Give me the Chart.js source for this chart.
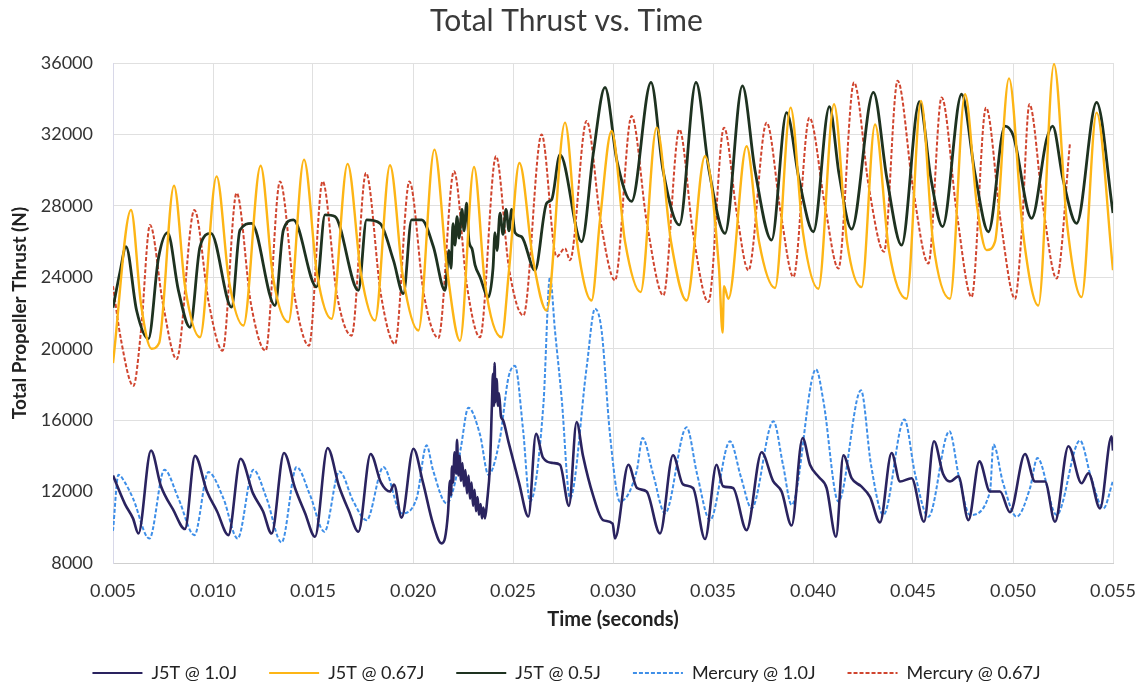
<!DOCTYPE html>
<html>
<head>
<meta charset="utf-8">
<script src="https://cdn.jsdelivr.net/npm/chart.js@4/dist/chart.umd.min.js"></script>
<style>
  html, body { margin: 0; padding: 0; background: #fff; }
  #wrap { width: 1143px; height: 692px; }
</style>
</head>
<body>
<div id="wrap"><canvas id="chart" width="1143" height="692"></canvas></div>
<script>
// time in milliseconds (converted to seconds below), thrust in N
const j5t10Time = [5.0,5.6,6.0,6.27,6.9,7.4,8.0,8.6,9.1,9.7,10.2,10.77,11.38,12.0,12.5,12.93,13.55,14.1,14.6,15.1,15.73,16.3,16.8,17.27,17.88,18.4,18.85,19.05,19.43,20.02,20.5,21.0,21.43,21.6,21.75,21.85,21.9,21.95,22.0,22.08,22.15,22.2,22.27,22.33,22.4,22.47,22.55,22.62,22.7,22.78,22.85,22.93,23.0,23.08,23.15,23.23,23.3,23.38,23.45,23.52,23.6,23.7,23.85,23.95,24.0,24.05,24.08,24.12,24.18,24.25,24.3,24.4,24.5,24.77,25.3,25.77,26.15,26.5,27.0,27.35,27.8,28.18,28.5,29.0,29.5,29.98,30.1,30.77,31.2,31.68,32.35,33.0,33.5,34.0,34.6,35.18,35.5,36.0,36.68,37.43,38.0,38.43,38.93,39.48,39.85,40.3,40.68,41.15,41.52,41.93,42.4,42.85,43.35,43.93,44.35,44.93,45.55,46.05,46.5,46.85,47.27,47.77,48.32,48.85,49.35,49.85,50.6,51.1,51.6,52.1,52.77,53.43,53.77,54.35,54.93,55.0];
const j5t10Thrust = [12900,11300,10500,9650,14300,12300,11000,9900,14000,12000,10900,9560,13840,11900,10900,9650,14160,12200,10800,9470,14440,12300,10900,9750,14100,12500,12000,12400,10540,14400,12500,10200,9100,9400,10800,12600,11800,13400,12500,14200,13000,14900,12900,14000,12600,13600,12300,13200,11900,12900,11600,12500,11200,12100,10900,11700,10700,11300,10500,11100,10500,11400,13500,17000,18600,16800,19200,17000,18300,16800,17500,16200,16000,14800,12500,10600,15240,13900,13600,13500,11200,15900,14000,11800,10400,10200,9380,13500,12200,12000,9650,14030,12400,12200,9340,13500,12300,12200,9840,14200,12600,12000,10100,15000,13500,12800,12200,9470,14030,12750,12300,11700,10270,14160,12560,12750,10310,14820,13000,12560,12850,10400,13690,12000,12000,10840,14100,12560,12560,10310,14540,12470,13030,11060,15100,14300];

const j5t067Time = [5.0,5.9,6.4,6.93,7.3,8.05,8.6,9.35,10.18,10.8,11.52,12.38,13.0,13.77,14.55,15.2,15.93,16.73,17.4,18.1,18.85,19.5,20.27,21.07,21.7,22.35,23.05,23.6,24.43,24.8,25.32,26.0,26.68,27.6,28.2,28.93,29.35,29.93,30.6,31.38,32.18,32.9,33.68,34.6,35.3,35.48,35.55,35.77,36.68,37.3,38.1,38.88,39.5,40.27,41.05,41.7,42.43,43.1,43.8,44.68,45.4,46.0,46.85,47.6,48.2,48.68,49.1,49.8,50.5,51.27,52.05,52.7,53.43,54.18,55.0];
const j5t067Thrust = [19200,27770,22500,20000,20300,29130,23500,20640,29650,23800,21300,30250,24000,21490,30590,24200,21670,30350,24200,21580,30270,24000,21020,31150,24500,20450,30180,23640,20640,24390,30400,25000,22140,32660,26000,22700,27210,32190,26000,23170,32380,26000,22700,30780,24500,20900,23500,22800,31340,26000,23400,33500,26500,23360,33690,26000,23450,32560,25500,22800,33880,26000,22800,34250,28000,25520,26000,35140,26500,22420,35940,27000,22890,33220,24400];

const j5t05Time = [5.0,5.35,5.65,6.18,6.77,7.27,7.73,8.27,8.85,9.35,9.9,10.93,11.35,11.93,13.1,13.52,14.02,15.18,15.6,16.1,17.27,17.68,18.35,19.02,19.52,19.93,20.43,21.02,21.6,21.8,21.9,22.0,22.1,22.2,22.3,22.45,22.55,22.68,22.8,22.95,23.1,23.35,23.77,24.0,24.1,24.2,24.35,24.5,24.65,24.8,24.93,25.1,25.43,26.1,26.68,26.93,27.35,28.43,29.02,29.6,30.2,30.93,31.9,32.5,33.32,34.15,34.8,35.6,36.47,37.1,37.93,38.68,39.3,40.02,40.82,41.3,41.93,43.02,43.7,44.43,45.32,45.9,46.48,47.43,48.1,48.77,49.6,50.02,50.93,51.68,51.98,52.5,53.18,54.18,55.0];
const j5t05Thrust = [22300,24300,25710,22140,20550,25050,26500,23270,21200,25710,26460,22330,26650,27020,22420,26650,27210,23460,27490,27400,23270,27210,27020,24960,23080,27210,27210,25710,23270,25500,24500,27000,25800,27400,26200,27800,26600,28150,26000,25600,24700,24020,22890,24500,26500,25500,27590,26400,27800,26600,27800,26500,26270,24390,28150,28340,30870,25990,30970,34630,30500,28250,34910,30000,26930,34910,30000,26460,34720,30000,26080,33220,29500,26550,33560,29800,26700,34350,29500,25800,33830,29500,26840,34250,29800,26550,32470,31910,27300,31720,32470,29500,27020,33790,27600];

const merc10Time = [5.0,5.27,5.6,6.0,6.82,7.57,8.27,9.07,9.77,10.52,11.23,12.02,12.68,13.43,14.18,14.85,15.57,16.32,17.02,17.68,18.52,19.43,20.18,20.68,21.0,21.68,22.1,22.4,22.77,23.35,23.77,24.35,24.77,25.1,25.5,25.85,26.52,26.85,27.1,27.43,27.85,28.68,29.1,29.43,29.85,30.35,31.18,31.48,32.0,32.6,33.68,34.2,34.85,35.85,36.4,36.93,38.02,38.5,38.93,40.15,40.52,41.27,42.4,42.9,43.52,44.57,45.1,45.77,46.82,47.3,47.85,48.85,49.02,49.5,50.18,50.85,51.22,52.18,53.35,53.9,54.52,55.0];
const merc10Thrust = [9800,12940,12500,11620,9370,13220,11620,9560,13090,11620,9370,13220,11620,9150,13370,11810,9750,13130,11440,10400,13370,10780,11620,14590,13200,11340,12500,14500,16700,15190,12940,15000,18380,19040,15500,11440,16880,24020,21000,17260,11620,18940,22240,21010,15190,11440,13130,15000,13000,10780,15600,13000,10400,14820,12800,11060,15940,13500,11250,18850,17070,11440,17670,13500,10690,16040,13000,10590,15380,12800,10690,12000,14630,12500,10590,12190,13880,10690,14860,12800,11060,12600];

const merc067Time = [5.0,5.4,6.02,6.4,6.85,7.5,8.18,9.07,9.8,10.48,11.18,11.9,12.63,13.35,14.1,14.8,15.48,16.2,16.93,17.65,18.4,19.1,19.82,20.55,21.27,22.05,22.7,23.35,24.15,24.8,25.52,26.43,27.18,27.6,27.85,28.68,29.4,30.1,30.93,31.7,32.52,33.32,34.0,34.77,35.55,36.2,36.77,37.68,38.4,39.02,39.82,40.6,41.27,42.05,42.8,43.55,44.23,45.0,45.77,46.43,47.2,47.93,48.65,49.4,50.1,50.43,50.82,51.5,52.18,52.85];
const merc067Thrust = [23500,20500,17920,21000,26930,22500,19420,27770,22500,19890,28720,22500,19890,29370,22800,20170,29370,23000,20730,29840,23000,20260,29370,23000,20600,29940,23500,20640,30780,24500,21860,32000,25150,25620,24960,32750,27000,23830,33030,27000,22990,32280,26500,22610,32380,27500,24390,32660,27500,24020,32940,28000,24490,34910,29000,25430,35010,29000,24770,34070,27500,22890,33500,27000,22800,26460,33690,28000,23930,31530];

const seriesNames = ['J5T @ 1.0J', 'J5T @ 0.67J', 'J5T @ 0.5J', 'Mercury @ 1.0J', 'Mercury @ 0.67J'];
const seriesColors = ['#2a235f', '#fdb515', '#1e3220', '#3f8fe8', '#d0452f'];
const seriesWidths = [2.6, 2.4, 2.8, 2, 2];

const toPoints = (times, vals) => times.map((t, i) => ({x: t / 1000, y: vals[i]}));

const seriesData = [
  toPoints(j5t10Time, j5t10Thrust),
  toPoints(j5t067Time, j5t067Thrust),
  toPoints(j5t05Time, j5t05Thrust),
  toPoints(merc10Time, merc10Thrust),
  toPoints(merc067Time, merc067Thrust)
];

const datasets = seriesData.map((pts, i) => {
  const dashed = i >= 3;
  return {
    label: seriesNames[i],
    data: pts,
    borderColor: seriesColors[i],
    backgroundColor: seriesColors[i],
    borderWidth: seriesWidths[i],
    borderDash: dashed ? [4, 2] : [],
    pointRadius: 0,
    cubicInterpolationMode: 'monotone',
    fill: false
  };
});

const ctx = document.getElementById('chart').getContext('2d');
new Chart(ctx, {
  type: 'line',
  data: { datasets: datasets },
  options: {
    responsive: false,
    animation: false,
    layout: { padding: { top: 0, right: 30, bottom: 0, left: 20 } },
    plugins: {
      title: {
        display: true,
        text: 'Total Thrust vs. Time',
        color: '#3a3a3a',
        font: { family: 'Lato', size: 30, weight: 'normal' },
        padding: { top: 3, bottom: 24 }
      },
      legend: {
        position: 'bottom',
        labels: {
          color: '#222',
          font: { family: 'Lato', size: 18 },
          usePointStyle: true,
          pointStyleWidth: 50,
          boxHeight: 2,
          padding: 32,
          generateLabels: (chart) => chart.data.datasets.map((ds, i) => ({
            text: ds.label,
            fillStyle: ds.borderColor,
            strokeStyle: ds.borderColor,
            lineWidth: 2,
            lineDash: ds.borderDash,
            pointStyle: 'line',
            fontColor: '#222',
            hidden: false,
            datasetIndex: i
          }))
        }
      },
      tooltip: { enabled: false }
    },
    scales: {
      x: {
        type: 'linear',
        min: 0.005,
        max: 0.055,
        ticks: {
          stepSize: 0.005,
          padding: 17,
          color: '#333',
          font: { family: 'Lato', size: 18 },
          callback: (v) => v.toFixed(3)
        },
        grid: { color: '#e0e0e0', drawTicks: false },
        border: { color: '#cfcfcf' },
        title: {
          display: true,
          text: 'Time (seconds)',
          color: '#222',
          font: { family: 'Lato', size: 20, weight: 'bold' },
          padding: { top: 8, bottom: 0 }
        },
        afterFit: (scale) => {
          scale.height = 69;
          scale.paddingRight = 0;
        }
      },
      y: {
        min: 8000,
        max: 36000,
        ticks: {
          stepSize: 4000,
          padding: 20,
          color: '#333',
          font: { family: 'Lato', size: 18 },
          callback: (v) => String(v)
        },
        grid: { color: '#e0e0e0', drawTicks: false },
        border: { color: '#d8d8e8' },
        title: {
          display: true,
          text: 'Total Propeller Thrust (N)',
          color: '#222',
          font: { family: 'Lato', size: 19, weight: 'bold' },
          padding: { top: -12, bottom: 0 }
        },
        afterFit: (scale) => { scale.width = 93; }
      }
    }
  }
});
</script>
</body>
</html>
